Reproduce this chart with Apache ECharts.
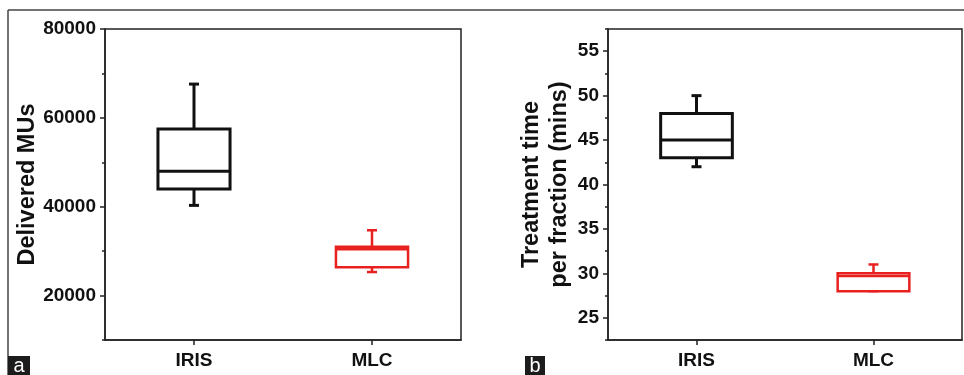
<!DOCTYPE html>
<html>
<head>
<meta charset="utf-8">
<script src="https://cdn.jsdelivr.net/npm/echarts@6/dist/echarts.min.js"></script>
<style>
html,body{margin:0;padding:0;background:#fff;}
#chart{width:964px;height:375px;}
</style>
</head>
<body>
<div id="chart"></div>
<script>
// ---- data ----
const categories = ['IRIS', 'MLC'];
// Panel a: Delivered MUs
const musMin    = [40300, 25300];
const musQ1     = [44000, 26400];
const musMedian = [48000, 30400];
const musQ3     = [57500, 31000];
const musMax    = [67600, 34700];
const musTicks  = [20000, 40000, 60000, 80000];
// Panel b: Treatment time per fraction (mins)
const timeMin    = [42, 28];
const timeQ1     = [43, 28];
const timeMedian = [45, 29.7];
const timeQ3     = [48, 30];
const timeMax    = [50, 31];
const timeTicks  = [25, 30, 35, 40, 45, 50, 55];

// ---- styles ----
const boxColors = ['#111111', '#e8201f'];
const boxWidths = [3, 2.5];
const FONT = '"Liberation Sans", Arial, sans-serif';

function rows(mn, q1, md, q3, mx) {
  return categories.map((c, i) => [i, mn[i], q1[i], md[i], q3[i], mx[i]]);
}

function renderBox(params, api) {
  const idx = api.value(0);
  const band = api.size([1, 0])[0];
  const w = band * 0.405;
  const cap = 10;
  const pMin = api.coord([idx, api.value(1)]);
  const pQ1 = api.coord([idx, api.value(2)]);
  const pMed = api.coord([idx, api.value(3)]);
  const pQ3 = api.coord([idx, api.value(4)]);
  const pMax = api.coord([idx, api.value(5)]);
  const cx = pQ1[0];
  const color = boxColors[idx];
  const lw = boxWidths[idx];
  const st = {stroke: color, lineWidth: lw, fill: null};
  return {
    type: 'group',
    children: [
      {type: 'line', shape: {x1: cx, y1: pQ3[1], x2: cx, y2: pMax[1]}, style: st},
      {type: 'line', shape: {x1: cx - cap / 2, y1: pMax[1], x2: cx + cap / 2, y2: pMax[1]}, style: st},
      {type: 'line', shape: {x1: cx, y1: pQ1[1], x2: cx, y2: pMin[1]}, style: st},
      {type: 'line', shape: {x1: cx - cap / 2, y1: pMin[1], x2: cx + cap / 2, y2: pMin[1]}, style: st},
      {type: 'rect', shape: {x: cx - w / 2, y: pQ3[1], width: w, height: pQ1[1] - pQ3[1]},
        style: {stroke: color, lineWidth: lw, fill: '#fff'}},
      {type: 'line', shape: {x1: cx - w / 2, y1: pMed[1], x2: cx + w / 2, y2: pMed[1]}, style: st}
    ]
  };
}

const axisLineStyle = {color: '#222', width: 1.5};
const labelStyle = {fontSize: 19, fontWeight: 'bold', color: '#111', fontFamily: FONT};
const plain = v => String(v);

function xAxisFor(g) {
  return {
    type: 'category', gridIndex: g, data: categories, boundaryGap: true,
    axisLine: {show: true, lineStyle: axisLineStyle},
    axisTick: {show: true, alignWithLabel: true, length: 5, lineStyle: axisLineStyle},
    axisLabel: Object.assign({margin: 11}, labelStyle),
    splitLine: {show: false}
  };
}

const chart = echarts.init(document.getElementById('chart'));
chart.setOption({
  animation: false,
  backgroundColor: '#fff',
  grid: [
    {left: 105, top: 29, width: 356, height: 311, show: true, borderColor: '#222', borderWidth: 1.5, backgroundColor: 'transparent'},
    {left: 608, top: 29, width: 354, height: 311, show: true, borderColor: '#222', borderWidth: 1.5, backgroundColor: 'transparent'}
  ],
  xAxis: [xAxisFor(0), xAxisFor(1)],
  yAxis: [
    {
      type: 'value', gridIndex: 0, min: 10000, max: 80000, interval: 10000,
      name: 'Delivered MUs', nameLocation: 'middle', nameGap: 65,
      nameTextStyle: {fontSize: 23.5, fontWeight: 'bold', color: '#111', fontFamily: FONT},
      axisLine: {show: true, lineStyle: axisLineStyle},
      axisTick: {show: true, length: 5, customValues: musTicks, lineStyle: axisLineStyle},
      axisLabel: Object.assign({margin: 9, customValues: musTicks, formatter: plain}, labelStyle),
      splitLine: {show: false}
    },
    {
      type: 'value', gridIndex: 0, min: 10000, max: 80000, interval: 10000, position: 'left',
      axisLine: {show: false}, axisLabel: {show: false}, splitLine: {show: false},
      axisTick: {show: true, length: 3, lineStyle: axisLineStyle}
    },
    {
      type: 'value', gridIndex: 1, min: 22.5, max: 57.5, interval: 2.5,
      name: 'Treatment time\nper fraction (mins)', nameLocation: 'middle', nameGap: 34,
      nameTextStyle: {fontSize: 23.5, fontWeight: 'bold', color: '#111', fontFamily: FONT, lineHeight: 28, align: 'center'},
      axisLine: {show: true, lineStyle: axisLineStyle},
      axisTick: {show: true, length: 5, customValues: timeTicks, lineStyle: axisLineStyle},
      axisLabel: Object.assign({margin: 9, customValues: timeTicks, formatter: plain}, labelStyle),
      splitLine: {show: false}
    },
    {
      type: 'value', gridIndex: 1, min: 22.5, max: 57.5, interval: 2.5, position: 'left',
      axisLine: {show: false}, axisLabel: {show: false}, splitLine: {show: false},
      axisTick: {show: true, length: 3, lineStyle: axisLineStyle}
    }
  ],
  series: [
    {type: 'custom', xAxisIndex: 0, yAxisIndex: 0, renderItem: renderBox,
      encode: {x: 0, y: [1, 2, 3, 4, 5]}, data: rows(musMin, musQ1, musMedian, musQ3, musMax)},
    {type: 'custom', xAxisIndex: 1, yAxisIndex: 2, renderItem: renderBox,
      encode: {x: 0, y: [1, 2, 3, 4, 5]}, data: rows(timeMin, timeQ1, timeMedian, timeQ3, timeMax)}
  ],
  graphic: [
    {type: 'line', shape: {x1: 8, y1: 10, x2: 964, y2: 10}, style: {stroke: '#444', lineWidth: 1.5}},
    {type: 'line', shape: {x1: 8, y1: 10, x2: 8, y2: 375}, style: {stroke: '#444', lineWidth: 1.5}},
    {type: 'rect', shape: {x: 8, y: 356, width: 22, height: 19}, style: {fill: '#1c1c1c'}},
    {type: 'text', x: 19, y: 366, style: {text: 'a', fill: '#fff', fontSize: 20, fontFamily: FONT, align: 'center', verticalAlign: 'middle'}},
    {type: 'rect', shape: {x: 525, y: 356, width: 20, height: 19}, style: {fill: '#1c1c1c'}},
    {type: 'text', x: 535, y: 366, style: {text: 'b', fill: '#fff', fontSize: 20, fontFamily: FONT, align: 'center', verticalAlign: 'middle'}}
  ]
});
</script>
</body>
</html>
